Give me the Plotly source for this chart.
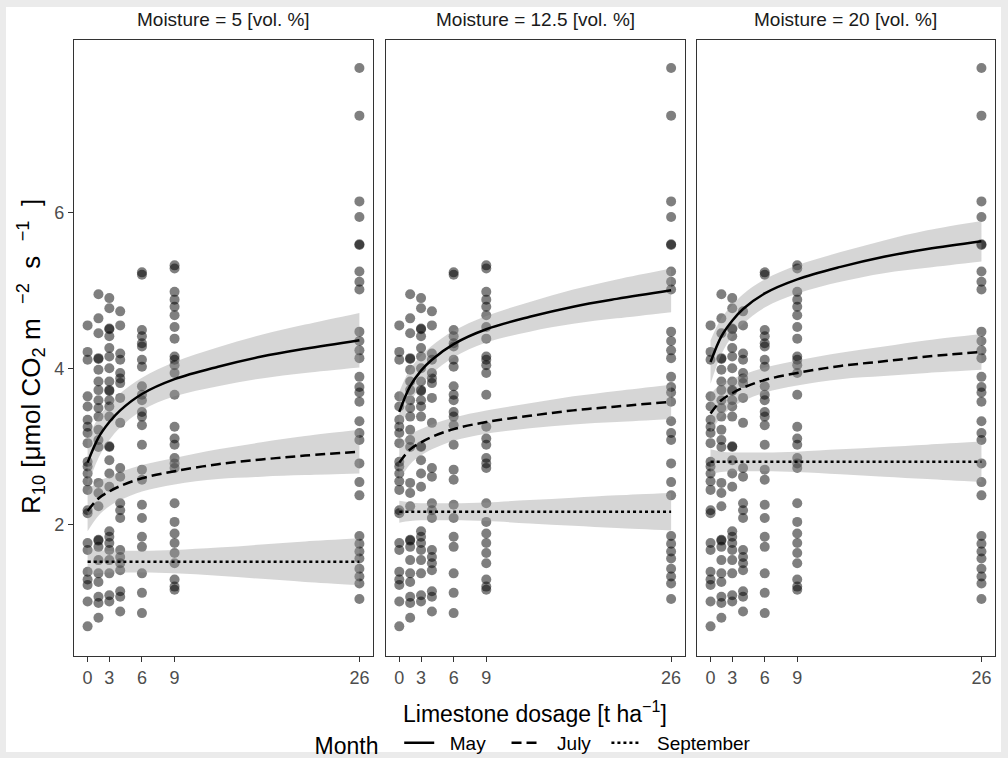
import plotly.graph_objects as go
from plotly.subplots import make_subplots

# ---------------- data ----------------
panel_titles = ["Moisture = 5 [vol. %]", "Moisture = 12.5 [vol. %]", "Moisture = 20 [vol. %]"]
tick_vals = [1, 3, 6, 9, 26]
tick_text = ["0", "3", "6", "9", "26"]

# observed R10 values per dosage column (plotting position)
obs_x1 = [4.55, 4.21, 4.11, 3.64, 3.51, 3.34, 3.25, 3.17, 3.04, 2.80, 2.74, 2.65, 2.55, 2.44,
          2.18, 2.14, 1.76, 1.67, 1.39, 1.29, 1.22, 1.01, 0.69]
obs_x2 = [4.95, 4.64, 4.45, 4.13, 4.12, 3.98, 3.83, 3.72, 3.59, 3.49, 3.38, 3.21, 3.08, 2.99,
          2.53, 2.40, 2.23, 1.80, 1.79, 1.71, 1.54, 1.37, 1.26, 1.07, 0.99, 0.80]
obs_x3 = [4.90, 4.77, 4.51, 4.50, 4.41, 4.26, 4.15, 4.00, 3.83, 3.72, 3.71, 3.59, 3.51, 3.38,
          3.00, 2.99, 2.82, 2.65, 2.48, 1.91, 1.84, 1.76, 1.67, 1.54, 1.37, 1.09, 1.01]
obs_x4 = [4.73, 4.55, 4.19, 4.11, 3.94, 3.87, 3.81, 3.62, 3.30, 2.72, 2.61, 2.27, 2.18, 2.08,
          1.67, 1.58, 1.50, 1.41, 1.14, 1.07, 0.88]
obs_x6 = [5.23, 5.20, 4.49, 4.41, 4.32, 4.28, 4.11, 4.02, 3.77, 3.66, 3.59, 3.44, 3.38, 3.27,
          3.02, 2.70, 2.57, 2.25, 2.08, 1.84, 1.71, 1.37, 1.12, 0.86]
obs_x9 = [5.32, 5.28, 4.98, 4.88, 4.79, 4.68, 4.53, 4.38, 4.15, 4.11, 4.04, 3.94, 3.66, 3.25,
          3.10, 3.02, 2.85, 2.78, 2.72, 2.27, 2.03, 1.88, 1.76, 1.63, 1.50, 1.29, 1.20, 1.16]
obs_x26 = [7.85, 7.24, 6.14, 5.94, 5.59, 5.58, 5.24, 5.11, 5.01, 4.47, 4.35, 4.23, 4.13, 3.89,
           3.76, 3.69, 3.57, 3.32, 3.17, 3.08, 2.78, 2.54, 2.37, 1.85, 1.75, 1.65, 1.56, 1.43,
           1.33, 1.24, 1.04]
obs_cols = {1: obs_x1, 2: obs_x2, 3: obs_x3, 4: obs_x4, 6: obs_x6, 9: obs_x9, 26: obs_x26}

# fitted curves (grid of dosage positions)
curve_x = [1, 2, 3, 4, 6, 9, 13, 17, 21, 26]
may_m5 = [2.79, 3.11, 3.31, 3.46, 3.67, 3.86, 4.02, 4.15, 4.25, 4.36]
may_m12 = [3.44, 3.77, 3.97, 4.11, 4.31, 4.50, 4.66, 4.79, 4.89, 5.00]
may_m20 = [4.08, 4.41, 4.61, 4.76, 4.96, 5.14, 5.30, 5.43, 5.53, 5.63]
jul_m5 = [2.17, 2.33, 2.42, 2.49, 2.59, 2.68, 2.77, 2.83, 2.88, 2.93]
jul_m12 = [2.79, 2.96, 3.05, 3.12, 3.22, 3.31, 3.39, 3.46, 3.51, 3.57]
jul_m20 = [3.42, 3.59, 3.68, 3.75, 3.85, 3.94, 4.03, 4.09, 4.15, 4.21]
sep_m5 = [1.52, 1.52, 1.52, 1.52, 1.52, 1.52, 1.52, 1.52, 1.52, 1.52]
sep_m12 = [2.16, 2.16, 2.16, 2.16, 2.16, 2.16, 2.16, 2.16, 2.16, 2.16]
sep_m20 = [2.80, 2.80, 2.80, 2.80, 2.80, 2.80, 2.80, 2.80, 2.80, 2.80]

# confidence band half-widths
may_hw_m5 = [0.30, 0.26, 0.23, 0.22, 0.21, 0.22, 0.25, 0.28, 0.31, 0.35]
may_hw_m12 = [0.26, 0.22, 0.19, 0.18, 0.17, 0.17, 0.19, 0.22, 0.25, 0.28]
may_hw_m20 = [0.28, 0.23, 0.20, 0.19, 0.18, 0.18, 0.19, 0.21, 0.24, 0.26]
jul_hw_m5 = [0.26, 0.22, 0.19, 0.18, 0.17, 0.17, 0.19, 0.22, 0.25, 0.28]
jul_hw_m12 = [0.23, 0.19, 0.17, 0.16, 0.15, 0.15, 0.16, 0.18, 0.20, 0.22]
jul_hw_m20 = [0.25, 0.21, 0.18, 0.17, 0.16, 0.16, 0.17, 0.19, 0.21, 0.23]
sep_hw_m5 = [0.18, 0.15, 0.14, 0.14, 0.14, 0.15, 0.18, 0.22, 0.26, 0.30]
sep_hw_m12 = [0.14, 0.12, 0.11, 0.11, 0.11, 0.12, 0.15, 0.18, 0.21, 0.24]
sep_hw_m20 = [0.16, 0.13, 0.12, 0.12, 0.12, 0.13, 0.16, 0.19, 0.22, 0.26]

months = ["May", "July", "September"]
curves = [[may_m5, jul_m5, sep_m5], [may_m12, jul_m12, sep_m12], [may_m20, jul_m20, sep_m20]]
halfw = [[may_hw_m5, jul_hw_m5, sep_hw_m5], [may_hw_m12, jul_hw_m12, sep_hw_m12],
         [may_hw_m20, jul_hw_m20, sep_hw_m20]]
dashes = ["solid", "10px,5px", "3px,3px"]

# ---------------- figure ----------------
FONT = "Liberation Sans, Arial, sans-serif"
NB = "\u00a0"
W, H = 1008, 758
ML, MR, MT, MB = 74, 13, 40, 102
PW, PH = W - ML - MR, H - MT - MB


def px_x(p):
    return (p - ML) / PW


def px_y(p):
    return (H - MB - p) / PH


domains = [[0, px_x(373)], [px_x(385.7), px_x(684.7)], [px_x(697), 1.0]]

fig = make_subplots(rows=1, cols=3, shared_yaxes=True, horizontal_spacing=0.01)

pts_x, pts_y = [], []
for xv, ys in obs_cols.items():
    pts_x += [xv] * len(ys)
    pts_y += ys

legend_names = [NB * 2 + "May" + NB * 3, NB * 2 + "July" + NB * 2, NB * 2 + "September"]

for c in range(3):
    col = c + 1
    # points
    fig.add_trace(go.Scatter(x=pts_x, y=pts_y, mode="markers",
                             marker=dict(size=10, color="rgba(0,0,0,0.5)", line=dict(width=0)),
                             showlegend=False, hoverinfo="skip"), row=1, col=col)
    # ribbons
    for m in range(3):
        line_v = curves[c][m]
        hw = halfw[c][m]
        up = [v + h for v, h in zip(line_v, hw)]
        lo = [v - h for v, h in zip(line_v, hw)]
        fig.add_trace(go.Scatter(x=curve_x, y=lo, mode="lines",
                                 line=dict(width=0, shape="spline", color="rgba(0,0,0,0)"),
                                 showlegend=False, hoverinfo="skip"), row=1, col=col)
        fig.add_trace(go.Scatter(x=curve_x, y=up, mode="lines", fill="tonexty",
                                 fillcolor="rgba(153,153,153,0.4)",
                                 line=dict(width=0, shape="spline", color="rgba(0,0,0,0)"),
                                 showlegend=False, hoverinfo="skip"), row=1, col=col)
    # lines
    for m in range(3):
        fig.add_trace(go.Scatter(x=curve_x, y=curves[c][m], mode="lines",
                                 line=dict(color="black", width=2.5, dash=dashes[m], shape="spline"),
                                 name=legend_names[m], legendgroup=months[m],
                                 showlegend=(c == 0)), row=1, col=col)

axis_common = dict(showgrid=False, zeroline=False, showline=True, mirror=True,
                   linecolor="#333333", linewidth=1.2, ticklen=5,
                   tickcolor="#333333", tickwidth=1.2,
                   tickfont=dict(family=FONT, size=18, color="#4d4d4d"))

for c in range(3):
    xa = "xaxis" if c == 0 else f"xaxis{c+1}"
    ya = "yaxis" if c == 0 else f"yaxis{c+1}"
    fig.layout[xa].update(domain=domains[c], range=[-0.25, 27.25], ticks="outside",
                          tickmode="array", tickvals=tick_vals, ticktext=tick_text, **axis_common)
    fig.layout[ya].update(range=[0.31, 8.21], tickmode="array", tickvals=[2, 4, 6],
                          ticktext=["2", "4", "6"], showticklabels=(c == 0),
                          ticks="outside" if c == 0 else "", **axis_common)

annotations = []
for c in range(3):
    annotations.append(dict(text=panel_titles[c], x=(domains[c][0] + domains[c][1]) / 2,
                            y=px_y(20), xref="paper", yref="paper", showarrow=False,
                            xanchor="center", yanchor="middle",
                            font=dict(family=FONT, size=19, color="#1a1a1a")))
annotations.append(dict(text="Limestone dosage [t ha<sup>−1</sup>]", x=0.5, y=px_y(712),
                        xref="paper", yref="paper", showarrow=False, xanchor="center",
                        yanchor="middle", font=dict(family=FONT, size=23, color="black")))
annotations.append(dict(text="R<sub>10</sub> [μmol CO<sub>2</sub> m" + NB * 2 + "<sup>−2</sup>" + NB * 2
                             + "s" + NB * 2 + "<sup>−1</sup>" + NB * 2 + "]",
                        x=px_x(31), y=px_y(357), xref="paper", yref="paper", showarrow=False,
                        textangle=-90, xanchor="center", yanchor="middle",
                        font=dict(family=FONT, size=26, color="black")))

fig.update_layout(
    width=W, height=H,
    margin=dict(l=ML, r=MR, t=MT, b=MB, autoexpand=False),
    paper_bgcolor="#ebebeb", plot_bgcolor="white",
    font=dict(family=FONT, color="black"),
    annotations=annotations,
    shapes=[dict(type="rect", xref="paper", yref="paper", x0=px_x(6), x1=px_x(1001),
                 y0=px_y(752), y1=px_y(7), fillcolor="white", line=dict(width=0), layer="below")],
    legend=dict(orientation="h", x=0.5, xanchor="center",
                yref="container", y=(H - 744) / H, yanchor="middle",
                title=dict(text="Month" + NB * 2, font=dict(family=FONT, size=23, color="black"),
                           side="left"),
                font=dict(family=FONT, size=19, color="black"), bgcolor="rgba(0,0,0,0)",
                itemwidth=30, tracegroupgap=0),
)

fig.write_html("out.html", config={"displayModeBar": False},
               post_script="document.body.style.margin='0';document.body.style.overflow='hidden';")
